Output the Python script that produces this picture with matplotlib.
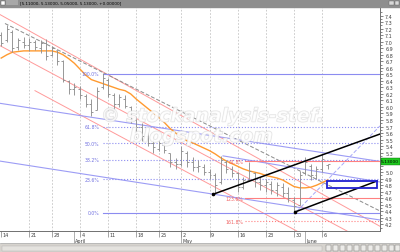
import numpy as np
import matplotlib.pyplot as plt
from matplotlib.patches import Rectangle
from matplotlib.transforms import blended_transform_factory
import matplotlib.patheffects as pe

# daily bars, x = trading day index (0 = 14 March)
opn = [7.10, 7.02, 7.15, 6.92, 7.00, 6.95, 7.00, 6.90, 6.98, 6.80,
       6.88, 6.70, 6.40, 6.28, 6.28, 6.17, 6.05, 5.96, 6.30, 6.42,
       6.18, 6.05, 6.12, 6.00, 5.80, 5.70, 5.55, 5.45, 5.36, 5.42,
       5.30, 5.15, 5.12, 5.30, 5.15, 5.08, 5.08, 5.00, 4.95, 4.85,
       5.15, 5.05, 4.98, 4.78, 4.88, 4.98, 4.85, 4.80, 4.82, 4.72,
       4.78, 4.68, 4.58, 4.50, 4.98, 5.10, 4.95, 5.05, 5.11]
high = [7.15, 7.26, 7.18, 7.05, 7.08, 7.05, 7.03, 7.02, 7.04, 6.93,
        6.88, 6.72, 6.42, 6.36, 6.32, 6.20, 6.12, 6.30, 6.52, 6.45,
        6.22, 6.20, 6.18, 6.02, 5.85, 5.75, 5.62, 5.55, 5.48, 5.46,
        5.30, 5.22, 5.40, 5.32, 5.24, 5.18, 5.12, 5.05, 4.98, 5.25,
        5.18, 5.10, 5.00, 4.92, 5.15, 5.00, 4.92, 4.90, 4.86, 4.85,
        4.84, 4.78, 4.62, 5.02, 5.23, 5.12, 5.10, 5.28, 5.13]
low = [6.93, 7.00, 6.84, 6.88, 6.90, 6.86, 6.88, 6.82, 6.72, 6.78,
       6.65, 6.38, 6.20, 6.18, 6.12, 6.00, 5.86, 5.95, 6.28, 6.15,
       5.96, 6.00, 5.98, 5.75, 5.62, 5.48, 5.40, 5.30, 5.32, 5.30,
       5.08, 5.05, 5.10, 5.08, 5.02, 5.00, 4.96, 4.90, 4.66, 4.82,
       4.98, 4.92, 4.69, 4.74, 4.86, 4.78, 4.72, 4.70, 4.66, 4.64,
       4.62, 4.55, 4.39, 4.50, 4.95, 4.88, 4.90, 5.00, 5.05]
close = [6.98, 7.20, 6.90, 7.02, 6.95, 7.00, 6.92, 6.98, 6.78, 6.90,
         6.70, 6.42, 6.28, 6.30, 6.18, 6.05, 5.92, 6.25, 6.45, 6.20,
         6.05, 6.15, 6.02, 5.80, 5.70, 5.55, 5.45, 5.38, 5.44, 5.34,
         5.15, 5.12, 5.32, 5.15, 5.08, 5.10, 5.00, 4.95, 4.80, 5.18,
         5.05, 4.98, 4.78, 4.88, 5.02, 4.85, 4.80, 4.85, 4.72, 4.80,
         4.68, 4.60, 4.48, 4.96, 5.15, 4.95, 5.05, 5.20, 5.13]
ma = [6.75, 6.80, 6.84, 6.85, 6.86, 6.86, 6.86, 6.86, 6.86, 6.86,
      6.84, 6.80, 6.74, 6.67, 6.58, 6.49, 6.42, 6.39, 6.36, 6.33,
      6.30, 6.27, 6.25, 6.20, 6.12, 6.05, 5.98, 5.91, 5.84, 5.76,
      5.67, 5.60, 5.54, 5.48, 5.45, 5.41, 5.37, 5.33, 5.28, 5.22,
      5.17, 5.13, 5.09, 5.05, 5.02, 5.00, 4.98, 4.95, 4.93, 4.91,
      4.88, 4.83, 4.78, 4.76, 4.76, 4.77, 4.80, 4.84, 4.88]
day = np.arange(len(close))

tick_idx = [0, 5, 9, 14, 19, 24, 28, 32, 37, 42, 47, 52, 57]
tick_lbl = ['14', '21', '28', '4', '11', '18', '25', '2', '9', '16', '23', '30', '6']
month_idx = [12.9, 32.0, 54.0]
month_lbl = ['April', 'May', 'June']

# fibonacci retracement (blue) and extension (red)
fib_start = 18.1
fib_lvl = [6.51, 5.70, 5.445, 5.19, 4.89, 4.38]
fib_lbl = ['100.0%', '61.8%', '50.0%', '38.2%', '23.6%', '0.0%']
fib_ls = ['-', ':', ':', ':', ':', '-']
ext_start = 43.3
ext_lvl = [5.17, 4.60, 4.25]
ext_lbl = ['61.8%', '123.6%', '161.8%']
ext_ls = ['-', '-', ':']

# hand drawn lines (x0, y0, x1, y1)
pink_lines = [(-0.21, 7.417, 67.28, 4.17),
              (-0.21, 6.94, 61.42, 4.098),
              (6.0, 6.25, 52.5, 4.098)]
gray_line = (0.67, 7.28, 67.28, 4.405)
blue_lines = [(-0.21, 6.056, 67.28, 5.165),
              (-0.21, 5.17, 67.28, 4.267),
              (39.4, 5.25, 67.28, 4.85)]
blue_dash = (52.5, 4.40, 67.28, 5.71)
black_lines = [(37.6, 4.66, 67.28, 5.585),
               (52.2, 4.39, 66.75, 4.865)]
target_box = (57.9, 4.757, 66.75, 4.865)
last_price = 5.13

fig = plt.figure(figsize=(4, 2.53), dpi=100)
ax = fig.add_axes([0, 21 / 253, 380 / 400, 224 / 253])
ax.set_xlim(-0.21, 67.28)
ax.set_ylim(4.098, 7.533)

#Vertical week grid
for t in tick_idx[1:]:
    ax.axvline(t, color='#c4c4c4', lw=0.6, ls=(0, (2, 2)), zorder=0.5)

#Channels and trendlines
for x0, y0, x1, y1 in pink_lines:
    ax.plot([x0, x1], [y0, y1], color='#ff9a9a', lw=0.7, zorder=1)
x0, y0, x1, y1 = gray_line
ax.plot([x0, x1], [y0, y1], color='#8a8a8a', lw=0.7, ls=(0, (4, 2)), zorder=1)
for x0, y0, x1, y1 in blue_lines:
    ax.plot([x0, x1], [y0, y1], color='#9c9cf5', lw=0.8, zorder=1)
x0, y0, x1, y1 = blue_dash
ax.plot([x0, x1], [y0, y1], color='#a8a8f8', lw=0.7, ls=(0, (4, 2)), zorder=1)

#Fibonacci levels
for lvl, lbl, ls in zip(fib_lvl, fib_lbl, fib_ls):
    ax.plot([fib_start, 67.28], [lvl, lvl], color='#8c8cf0', lw=0.8, ls=ls, zorder=1)
    ax.text(fib_start - 0.7, lvl, lbl, color='#7070e0', fontsize=3.3,
            ha='right', va='center', zorder=6)
for lvl, lbl, ls in zip(ext_lvl, ext_lbl, ext_ls):
    ax.plot([ext_start, 67.28], [lvl, lvl], color='#ff8080', lw=0.8, ls=ls, zorder=1)
    ax.text(ext_start - 0.3, lvl, lbl, color='#f06060', fontsize=3.3,
            ha='right', va='center', zorder=6)

#Moving average
ax.plot(day, ma, color='#ff9a30', lw=1.0, zorder=2)

#OHLC bars
ax.vlines(day, low, high, color='#909090', lw=0.65, zorder=3)
ax.hlines(opn, day - 0.35, day, color='#909090', lw=0.65, zorder=3)
ax.hlines(close, day, day + 0.35, color='#909090', lw=0.65, zorder=3)

#Black trend lines
for x0, y0, x1, y1 in black_lines:
    ax.plot([x0, x1], [y0, y1], color='black', lw=1.1, zorder=4)
    ax.plot([x0], [y0], 'o', color='black', ms=1.6, zorder=4)

bx0, by0, bx1, by1 = target_box
ax.add_patch(Rectangle((bx0, by0), bx1 - bx0, by1 - by0, fill=False,
                       ec='#2020d0', lw=1.3, zorder=4))

#Watermark
for txt, xx, yy in [('© stockanalysis-stef.', 37.5, 5.86), ('blogspot.com', 35.5, 5.55)]:
    ax.text(xx, yy, txt, fontsize=13.5, fontweight='bold', style='italic',
            color='white', alpha=0.7, ha='center', va='center', zorder=5,
            path_effects=[pe.withStroke(linewidth=0.9, foreground='#d6d6d6')])

#Axes styling
for s in ['left', 'top']:
    ax.spines[s].set_visible(False)
ax.spines['right'].set_color('#707070')
ax.spines['bottom'].set_color('#707070')
ax.spines['right'].set_linewidth(0.7)
ax.spines['bottom'].set_linewidth(0.7)
ax.yaxis.tick_right()
yt = np.round(np.arange(4.2, 7.45, 0.1), 1)
ax.set_yticks(yt)
ax.set_yticks(np.round(np.arange(4.15, 7.5, 0.1), 2), minor=True)
# price tag hides the labels next to the last price
ax.set_yticklabels(['' if abs(v - last_price) < 0.1 else '%.1f' % v for v in yt])
ax.tick_params(axis='y', which='major', length=2.2, width=0.5, color='#555555',
               labelsize=3.5, labelcolor='#404040', pad=1.5)
ax.tick_params(axis='y', which='minor', length=1.2, width=0.5, color='#555555')
ax.set_xticks(tick_idx)
ax.set_xticklabels([])
ax.tick_params(axis='x', length=4.3, width=0.5, color='#808080')
trans = blended_transform_factory(ax.transData, ax.transAxes)
for t, lbl in zip(tick_idx, tick_lbl):
    ax.text(t + 0.25, -3.3 / 224, lbl, transform=trans, fontsize=3.5,
            color='#404040', ha='left', va='center', clip_on=False)
for m, lbl in zip(month_idx, month_lbl):
    ax.plot([m, m], [0, -12 / 224], transform=trans, color='#909090', lw=0.5, clip_on=False)
    ax.text(m + 0.2, -9.5 / 224, lbl, transform=trans, fontsize=3.5,
            color='#404040', ha='left', va='center', clip_on=False)

#Window chrome (pixel coordinates)
ov = fig.add_axes([0, 0, 1, 1], zorder=10)
ov.set_xlim(0, 400)
ov.set_ylim(253, 0)
ov.axis('off')
ov.patch.set_visible(False)
ov.add_patch(Rectangle((0, 0), 400, 7.5, color='#8e8e8e'))
ov.add_patch(Rectangle((1, 1.5), 4, 4.5, fc='white', ec='#555555', lw=0.3))
ov.add_patch(Rectangle((6, 1.2), 12, 5, fc='#a8a8a8', lw=0))
ov.text(20, 3.8, '[5.11000, 5.13000, 5.05000, 5.13000, +0.00000]',
        fontsize=3.0, color='black', va='center', ha='left')
for bx in [389, 394.5]:
    ov.add_patch(Rectangle((bx, 1.5), 4.5, 4.5, fc='#d8d8d8', ec='#606060', lw=0.3))
ov.plot([0, 400], [244, 244], color='#a0a0a0', lw=0.5)
ov.add_patch(Rectangle((0, 244.5), 400, 8.5, color='#d6d3ce'))
ov.add_patch(Rectangle((2, 246.5), 320, 5, fc='#e4e2de', ec='#b0b0b0', lw=0.3))
for bx in [326, 333, 340, 347, 354, 361, 368, 375, 382, 389, 395]:
    ov.add_patch(Rectangle((bx, 246.3), 5, 5.5, fc='#ecebe8', ec='#707070', lw=0.3))
ov.add_patch(Rectangle((381, 158.5), 18.5, 7.5, fc='#1ec81e', ec='#0a6a0a', lw=0.3))
ov.text(390, 162.3, '%.5f' % last_price, fontsize=3.2, color='black',
        ha='center', va='center')

fig.savefig('out.png', dpi=100)
